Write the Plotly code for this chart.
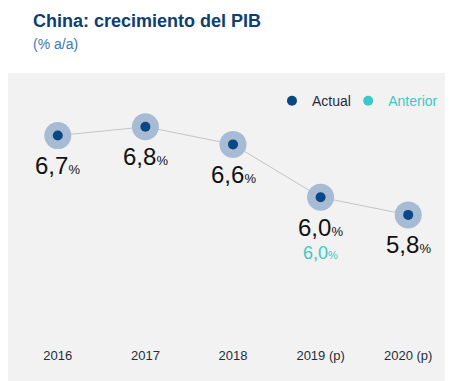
import plotly.graph_objects as go

years = ["2016", "2017", "2018", "2019 (p)", "2020 (p)"]
actual = [6.7, 6.8, 6.6, 6.0, 5.8]
anterior_years = ["2019 (p)"]
anterior = [6.0]
labels_actual = ["6,7", "6,8", "6,6", "6,0", "5,8"]
labels_anterior = ["6,0"]

DARK = "#0a4785"
HALO = "#a7bbd4"
TEAL = "#3cc8c8"
FONT = "Arial, Liberation Sans, sans-serif"

W, H = 445, 373
L, R, T, B = 6, 1, 65, 48
PW, PH = W - L - R, H - T - B

fig = go.Figure()

# anterior (hidden behind the halo; gives legend entry)
fig.add_trace(go.Scatter(x=anterior_years, y=anterior, mode="markers", name="Anterior",
                         marker=dict(color=TEAL, size=10), hoverinfo="skip",
                         legend="legend2"))
fig.add_trace(go.Scatter(x=years, y=actual, mode="lines", showlegend=False,
                         line=dict(color="#c4c4c4", width=1), hoverinfo="skip"))
fig.add_trace(go.Scatter(x=years, y=actual, mode="markers", showlegend=False,
                         marker=dict(color=HALO, size=27), hoverinfo="skip"))
fig.add_trace(go.Scatter(x=years, y=actual, mode="markers", name="Actual",
                         marker=dict(color=DARK, size=10), legend="legend"))

annotations = []
for x, y, t in zip(years, actual, labels_actual):
    annotations.append(dict(x=years.index(x), y=y, xref="x", yref="y", showarrow=False,
                            text=f"{t}<span style='font-size:13px'>%</span>",
                            font=dict(size=24, color="#111111", family=FONT),
                            yanchor="middle", yshift=-30))
for x, y, t in zip(anterior_years, anterior, labels_anterior):
    annotations.append(dict(x=years.index(x), y=y, xref="x", yref="y", showarrow=False,
                            text=f"{t}<span style='font-size:11px'>%</span>",
                            font=dict(size=18, color=TEAL, family=FONT),
                            yanchor="middle", yshift=-56))


def px_to_paper(px, py):
    return (px - L) / PW, (H - B - py) / PH


tx, ty = px_to_paper(23, 1)
annotations.append(dict(x=tx, y=ty, xref="paper", yref="paper", showarrow=False,
                        xanchor="left", yanchor="top", align="left",
                        text="<b>China: crecimiento del PIB</b>",
                        font=dict(size=18, color="#0d3f73", family=FONT)))
sx, sy = px_to_paper(23, 26)
annotations.append(dict(x=sx, y=sy, xref="paper", yref="paper", showarrow=False,
                        xanchor="left", yanchor="top", align="left",
                        text="(% a/a)",
                        font=dict(size=14, color="#3a78b5", family=FONT)))

fig.update_layout(
    width=W, height=H,
    margin=dict(l=L, r=R, t=T, b=B, autoexpand=False),
    paper_bgcolor="white", plot_bgcolor="#f2f2f2",
    font=dict(family=FONT),
    showlegend=True,
    legend=dict(orientation="h", x=0.589, xanchor="left", y=0.892, yanchor="middle",
                bgcolor="rgba(0,0,0,0)", font=dict(size=14, color="#1f2d3d", family=FONT)),
    legend2=dict(orientation="h", x=0.763, xanchor="left", y=0.892, yanchor="middle",
                 bgcolor="rgba(0,0,0,0)", font=dict(size=14, color=TEAL, family=FONT)),
    xaxis=dict(type="category", categoryorder="array", categoryarray=years,
               range=[-0.5, 4.5], showgrid=False, zeroline=False,
               showline=False, ticks="outside", ticklen=10, tickcolor="rgba(0,0,0,0)",
               tickfont=dict(size=13, color="#1f2d3d", family=FONT), fixedrange=True),
    yaxis=dict(range=[4.46, 7.41], visible=False, fixedrange=True),
    shapes=[dict(type="rect", xref="paper", yref="paper", x0=-0.1, x1=1.1,
                 y0=-0.5, y1=1.0, fillcolor="#f2f2f2", line=dict(width=0), layer="below")],
    annotations=annotations,
)

fig.write_html("out.html")
